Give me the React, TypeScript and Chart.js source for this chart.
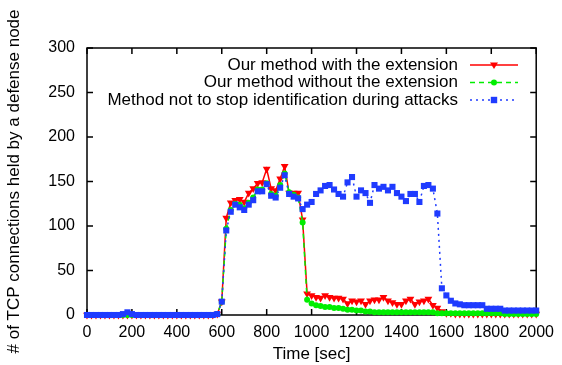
import React, { useEffect, useRef } from "react";
import { Chart, registerables } from "chart.js";

Chart.register(...registerables);

const times = [
  0, 20, 40, 60, 80, 100, 120, 140, 160, 180, 200, 220, 240, 260, 280, 300, 320, 340, 360, 380,
  400, 420, 440, 460, 480, 500, 520, 540, 560, 580, 600, 620, 640, 660, 680, 700, 720, 740, 760, 780,
  800, 820, 840, 860, 880, 900, 920, 940, 960, 980, 1000, 1020, 1040, 1060, 1080, 1100, 1120, 1140, 1160, 1180,
  1200, 1220, 1240, 1260, 1280, 1300, 1320, 1340, 1360, 1380, 1400, 1420, 1440, 1460, 1480, 1500, 1520, 1540, 1560, 1580,
  1600, 1620, 1640, 1660, 1680, 1700, 1720, 1740, 1760, 1780, 1800, 1820, 1840, 1860, 1880, 1900, 1920, 1940, 1960, 1980,
  2000,
];

// Our method with the extension
const withExt = [
  0, 0, 0, 0, 0, 0, 0, 0, 0, 0, 0, 0, 0, 0, 0, 0, 0, 0, 0, 0,
  0, 0, 0, 0, 0, 0, 0, 0, 0, 1, 15, 109, 126, 129, 130, 127, 137, 142, 148, 149,
  164, 142, 140, 153, 167, 137, 137, 137, 107, 24, 22, 20, 19, 22, 20, 19, 19, 18, 13, 16,
  15, 16, 12, 16, 17, 17, 20, 16, 14, 12, 12, 16, 18, 12, 15, 16, 18, 11, 8, 4,
  2, 2, 1, 1, 1, 1, 1, 1, 1, 1, 1, 1, 1, 1, 1, 1, 1, 1, 1, 1,
  1,
];

// Our method without the extension
const withoutExt = [
  0, 0, 0, 0, 0, 0, 0, 0, 0, 0, 0, 0, 0, 0, 0, 0, 0, 0, 0, 0,
  0, 0, 0, 0, 0, 0, 0, 0, 0, 1, 15, 97, 118, 125, 124, 120, 126, 132, 141, 141,
  148, 136, 134, 146, 159, 138, 135, 132, 104, 17, 13, 11, 10, 9, 9, 8, 8, 7, 6, 6,
  5, 5, 4, 4, 3, 3, 3, 3, 3, 3, 3, 3, 3, 3, 3, 3, 3, 3, 2, 2,
  2, 2, 2, 2, 2, 2, 2, 2, 2, 2, 2, 2, 2, 1, 1, 1, 1, 1, 1, 1,
  1,
];

// Method not to stop identification during attacks
const noStop = [
  0, 0, 0, 0, 0, 0, 0, 0, 1, 3, 1, 0, 0, 0, 0, 0, 0, 0, 0, 0,
  0, 0, 0, 0, 0, 0, 0, 0, 0, 1, 15, 95, 116, 124, 121, 118, 124, 129, 139, 139,
  147, 134, 132, 143, 157, 136, 133, 131, 119, 124, 127, 136, 140, 145, 146, 141, 136, 133, 149, 155,
  133, 140, 137, 126, 146, 142, 144, 140, 144, 137, 133, 128, 136, 136, 127, 145, 146, 142, 114, 30,
  22, 16, 13, 12, 11, 11, 11, 11, 11, 7, 7, 7, 7, 5, 5, 5, 5, 5, 5, 5,
  5,
];

const seriesNames = [
  "Our method with the extension",
  "Our method without the extension",
  "Method not to stop identification during attacks",
];

const xTicks = [0, 200, 400, 600, 800, 1000, 1200, 1400, 1600, 1800, 2000];
const yTicks = [0, 50, 100, 150, 200, 250, 300];

const FONT = "'Liberation Sans', Arial, Helvetica, sans-serif";

const framePlugin = {
  id: "frame",
  beforeDatasetsDraw(chart: any) {
    const { ctx, chartArea, scales } = chart;
    const { left, right, top, bottom } = chartArea;
    const x = scales.x;
    const y = scales.y;
    ctx.save();
    ctx.strokeStyle = "#000";
    ctx.lineWidth = 1.5;
    ctx.strokeRect(left, top, right - left, bottom - top);
    ctx.beginPath();
    const len = 6;
    x.ticks.forEach((t: any) => {
      const px = x.getPixelForValue(t.value);
      ctx.moveTo(px, bottom);
      ctx.lineTo(px, bottom - len);
      ctx.moveTo(px, top);
      ctx.lineTo(px, top + len);
    });
    y.ticks.forEach((t: any) => {
      const py = y.getPixelForValue(t.value);
      ctx.moveTo(left, py);
      ctx.lineTo(left + len, py);
      ctx.moveTo(right, py);
      ctx.lineTo(right - len, py);
    });
    ctx.stroke();
    ctx.restore();
  },
};

function drawMarker(ctx: CanvasRenderingContext2D, style: string, cx: number, cy: number, r: number) {
  ctx.beginPath();
  if (style === "triangle") {
    ctx.moveTo(cx - r, cy - r * 0.6);
    ctx.lineTo(cx + r, cy - r * 0.6);
    ctx.lineTo(cx, cy + r);
    ctx.closePath();
  } else if (style === "circle") {
    ctx.arc(cx, cy, r, 0, Math.PI * 2);
  } else {
    ctx.rect(cx - r, cy - r, r * 2, r * 2);
  }
  ctx.fill();
}

const legendPlugin = {
  id: "insideLegend",
  afterDraw(chart: any) {
    const { ctx } = chart;
    const textRight = 458;
    const lineL = 470;
    const lineR = 518;
    const rows = [65, 82.5, 100];
    ctx.save();
    ctx.font = `17px ${FONT}`;
    ctx.textAlign = "right";
    ctx.textBaseline = "middle";
    chart.data.datasets.forEach((ds: any, i: number) => {
      const yy = rows[i];
      ctx.fillStyle = "#000";
      ctx.fillText(ds.label, textRight, yy);
      ctx.strokeStyle = ds.borderColor;
      ctx.lineWidth = ds.borderWidth;
      ctx.setLineDash(ds.borderDash || []);
      ctx.beginPath();
      ctx.moveTo(lineL, yy);
      ctx.lineTo(lineR, yy);
      ctx.stroke();
      ctx.setLineDash([]);
      ctx.fillStyle = ds.pointBackgroundColor;
      drawMarker(ctx, ds.markerKind, (lineL + lineR) / 2, yy, ds.markerSize);
    });
    ctx.restore();
  },
};

export default function App() {
  const ref = useRef<HTMLCanvasElement>(null);

  useEffect(() => {
    document.body.style.margin = "0";
    const canvas = ref.current;
    if (!canvas) return;
    Chart.defaults.color = "#000";
    Chart.defaults.font.family = FONT;

    const toPts = (vals: number[]) => times.map((t, i) => ({ x: t, y: vals[i] }));

    const chart = new Chart(canvas, {
      type: "line",
      data: {
        datasets: [
          {
            label: seriesNames[0],
            data: toPts(withExt),
            borderColor: "#ff0000",
            backgroundColor: "#ff0000",
            pointBackgroundColor: "#ff0000",
            pointBorderColor: "#ff0000",
            borderWidth: 1.5,
            pointStyle: "triangle",
            pointRotation: 180,
            pointRadius: 4.5,
            pointBorderWidth: 0,
            order: 2,
            clip: false,
            markerKind: "triangle",
            markerSize: 4,
          } as any,
          {
            label: seriesNames[1],
            data: toPts(withoutExt),
            borderColor: "#00ee00",
            backgroundColor: "#00ee00",
            pointBackgroundColor: "#00ee00",
            pointBorderColor: "#00ee00",
            borderWidth: 1.5,
            borderDash: [5, 4],
            pointStyle: "circle",
            pointRadius: 3,
            pointBorderWidth: 0,
            order: 1,
            clip: false,
            markerKind: "circle",
            markerSize: 3,
          } as any,
          {
            label: seriesNames[2],
            data: toPts(noStop),
            borderColor: "#1f3bff",
            backgroundColor: "#1f3bff",
            pointBackgroundColor: "#1f3bff",
            pointBorderColor: "#1f3bff",
            borderWidth: 1.5,
            borderDash: [2, 4],
            pointStyle: "rect",
            pointRadius: 4.3,
            pointBorderWidth: 0,
            order: 0,
            clip: false,
            markerKind: "rect",
            markerSize: 3.2,
          } as any,
        ],
      },
      options: {
        animation: false,
        responsive: false,
        maintainAspectRatio: false,
        events: [],
        layout: { padding: { top: 48, right: 23, left: 0, bottom: 0 } },
        plugins: {
          legend: { display: false },
          tooltip: { enabled: false },
        },
        scales: {
          x: {
            type: "linear",
            min: 0,
            max: 2000,
            afterBuildTicks: (scale: any) => {
              scale.ticks = xTicks.map((v) => ({ value: v }));
            },
            afterFit: (scale: any) => {
              scale.height = 50;
            },
            grid: { display: false, drawTicks: false },
            border: { display: false },
            ticks: {
              font: { size: 16, family: FONT },
              color: "#000",
              padding: 8,
              maxRotation: 0,
              autoSkip: false,
              callback: (v: any) => String(v),
            },
            title: {
              display: true,
              text: "Time [sec]",
              font: { size: 17, family: FONT },
              color: "#000",
              padding: { top: 0, bottom: 0 },
            },
          },
          y: {
            type: "linear",
            min: 0,
            max: 300,
            afterBuildTicks: (scale: any) => {
              scale.ticks = yTicks.map((v) => ({ value: v }));
            },
            afterFit: (scale: any) => {
              scale.width = 87;
            },
            grid: { display: false, drawTicks: false },
            border: { display: false },
            ticks: {
              font: { size: 16, family: FONT },
              color: "#000",
              padding: 12,
              autoSkip: false,
              callback: (v: any) => String(v),
            },
            title: {
              display: true,
              text: "# of TCP connections held by a defense node",
              font: { size: 17, family: FONT },
              color: "#000",
              padding: { top: 4, bottom: 0 },
            },
          },
        },
      },
      plugins: [framePlugin, legendPlugin],
    });

    return () => chart.destroy();
  }, []);

  return (
    <div style={{ position: "fixed", left: 0, top: 0, width: 562, height: 365, background: "#fff" }}>
      <canvas ref={ref} width={562} height={365} style={{ width: 562, height: 365, display: "block" }} />
    </div>
  );
}
